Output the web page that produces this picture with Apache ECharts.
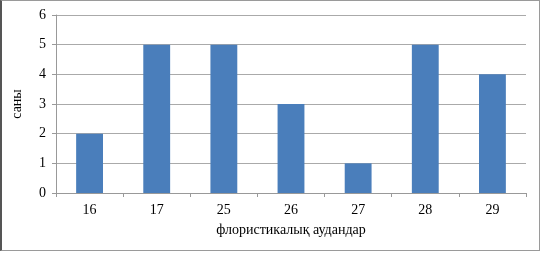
<!DOCTYPE html>
<html><head><meta charset="utf-8">
<script src="https://cdn.jsdelivr.net/npm/echarts@6/dist/echarts.min.js"></script>
<style>
html,body{margin:0;padding:0;background:#fff;}
#c{position:absolute;left:0;top:0;width:540px;height:251px;border-top:1px solid #9a9a9a;border-left:2px solid #555;border-right:1px solid #9a9a9a;border-bottom:1px solid #9a9a9a;box-sizing:border-box;}
</style></head>
<body><div id="c"></div>
<script>
const categories = ['16','17','25','26','27','28','29'];
const values = [2,5,5,3,1,5,4];
const yTicks = {min:0,max:6,interval:1};
const xName = 'флористикалық аудандар';
const yName = 'саны';
const chart = echarts.init(document.getElementById('c'), null, {renderer:'canvas'});
const font = 'Liberation Serif';
chart.setOption({
  animation:false,
  grid:{left:53,right:13,top:14,bottom:57},
  xAxis:{type:'category',data:categories,
    name:xName,nameLocation:'middle',nameGap:30,
    nameTextStyle:{fontFamily:font,fontSize:14,color:'#000'},
    axisLine:{lineStyle:{color:'#999'}},
    axisTick:{show:true,alignWithLabel:false,length:4,lineStyle:{color:'#999'}},
    axisLabel:{fontFamily:font,fontSize:14,color:'#000',margin:10}},
  yAxis:{type:'value',min:yTicks.min,max:yTicks.max,interval:yTicks.interval,
    name:yName,nameLocation:'middle',nameGap:32,
    nameTextStyle:{fontFamily:font,fontSize:14,color:'#000'},
    axisLine:{show:true,lineStyle:{color:'#999'}},
    axisTick:{show:true,length:4,lineStyle:{color:'#999'}},
    splitLine:{lineStyle:{color:'#aaa'}},
    axisLabel:{fontFamily:font,fontSize:14,color:'#000',margin:10}},
  series:[{type:'bar',data:values,barWidth:'40%',itemStyle:{color:'#4a7ebb'}}]
});
</script></body></html>
